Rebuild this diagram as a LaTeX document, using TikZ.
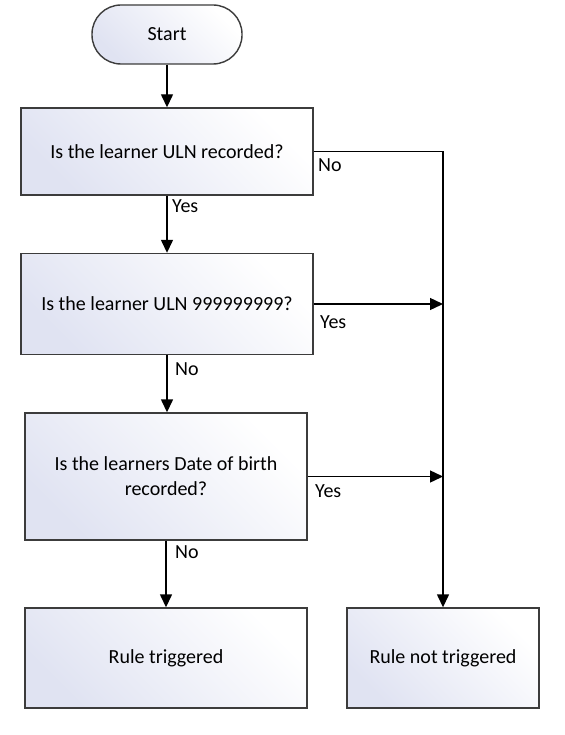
\documentclass[tikz,border=0pt]{standalone}
\usepackage{fontspec}
\setmainfont{Carlito}
\usetikzlibrary{arrows.meta,positioning}
\definecolor{lav}{RGB}{224,227,242}
\definecolor{edge}{RGB}{60,60,60}
\tikzset{
  box/.style={draw=edge, line width=1.4pt, top color=lav, bottom color=white, shading angle=135,
    inner sep=2pt, align=center, font=\fontsize{20}{25}\selectfont},
  term/.style={box, rounded corners=29pt},
  arr/.style={line width=1.4pt, -{Triangle[length=13pt,width=12pt]}},
  ln/.style={line width=1.4pt},
  lbl/.style={inner sep=0pt, anchor=base west, font=\fontsize{20}{24}\selectfont}
}
\begin{document}
\begin{tikzpicture}[x=1pt,y=-1pt]
\useasboundingbox (0,0) rectangle (564,735);
\node[term, minimum width=150pt, minimum height=59pt] (start) at (167,34.5) {Start};
\node[box, minimum width=292pt, minimum height=87pt] (q1) at (167,151.5) {Is the learner ULN recorded?};
\node[box, minimum width=292pt, minimum height=101pt] (q2) at (167,304) {Is the learner ULN 999999999?};
\node[box, minimum width=282pt, minimum height=127pt] (q3) at (166,476.5) {Is the learners Date of birth\\recorded?};
\node[box, minimum width=282pt, minimum height=100pt] (r1) at (166,658) {Rule triggered};
\node[box, minimum width=192pt, minimum height=100pt] (r2) at (443,658) {Rule not triggered};

\draw[arr] (start) -- (q1);
\draw[arr] (q1.south) -- (q1.south |- q2.north);
\draw[arr] (q2.south) -- (q2.south |- q3.north);
\draw[arr] (q3) -- (r1);
\draw[arr] (q1.east) -- (q1.east -| r2.north) -- (r2.north);
\draw[arr] (q2.east) -- (q2.east -| r2.north);
\draw[arr] (q3.east) -- (q3.east -| r2.north);

\node[lbl] (l1) at (318,172) {No};
\node[lbl] (l2) at (172,213) {Yes};
\node[lbl] (l3) at (320,328) {Yes};
\node[lbl] (l4) at (175,375) {No};
\node[lbl] (l5) at (315,497) {Yes};
\node[lbl] (l6) at (175,558) {No};
\end{tikzpicture}
\end{document}
